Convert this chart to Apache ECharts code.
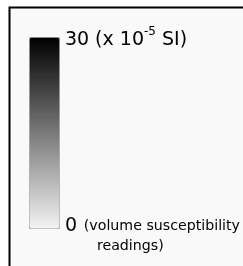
<!DOCTYPE html>
<html><head><meta charset="utf-8">
<script src="https://cdn.jsdelivr.net/npm/echarts@6/dist/echarts.min.js"></script>
<style>html,body{margin:0;padding:0;background:#fff}#c{width:243px;height:266px}</style>
</head><body><div id="c"></div>
<script>
const rangeMin = 0;
const rangeMax = 30;
const tickValues = [0, 30];
const topLabel = ['30', ' (x 10', '-5', ' SI)'];
const bottomLabel = ['0', '(volume susceptibility', 'readings)'];
const rampColors = ['#f3f3f3', '#000000'];

const chart = echarts.init(document.getElementById('c'), null, {renderer: 'canvas'});
const F = 'DejaVu Sans, sans-serif';
chart.setOption({
  animation: false,
  backgroundColor: '#ffffff',
  graphic: [{
    type: 'rect', z: -10, silent: true,
    shape: {x: 9.5, y: 7.5, width: 260, height: 280},
    style: {fill: '#f9f9f9', stroke: '#000', lineWidth: 2}
  }],
  grid: {left: 29, top: 37, width: 30, height: 191, show: false},
  xAxis: {type: 'value', show: false, min: 0, max: 1},
  yAxis: {
    type: 'value', position: 'right', min: rangeMin, max: rangeMax, interval: rangeMax - rangeMin,
    axisLine: {show: false}, axisTick: {show: false}, splitLine: {show: false},
    axisLabel: {
      margin: 6, color: '#000', fontFamily: F,
      formatter: function (v) {
        if (v === tickValues[1]) return '{bt|' + topLabel[0] + topLabel[1] + '}{sup|' + topLabel[2] + '}{bt|' + topLabel[3] + '}';
        return '{b|' + bottomLabel[0] + '} {s|' + bottomLabel[1] + '}\n{r|' + bottomLabel[2] + '}';
      },
      rich: {
        bt: {fontSize: 19, fontFamily: F, color: '#000', lineHeight: 36, padding: [6, 0, 0, 0]},
        sup: {fontSize: 12, fontFamily: F, color: '#000', padding: [0, 0, 10, 0], lineHeight: 36},
        b: {fontSize: 19, fontFamily: F, color: '#000', lineHeight: 36},
        s: {fontSize: 14.2, fontFamily: F, color: '#000', lineHeight: 36, padding: [0, 0, 0, 3]},
        r: {fontSize: 14.2, fontFamily: F, color: '#000', lineHeight: 4, padding: [0, 0, 0, 32]}
      }
    }
  },
  visualMap: {
    type: 'continuous', min: rangeMin, max: rangeMax, orient: 'vertical',
    left: 29, top: 37, itemWidth: 30, itemHeight: 191, padding: 0,
    calculable: false, text: null, showLabel: false,
    borderColor: '#a8a8a8', borderWidth: 1,
    inRange: {color: rampColors}, seriesIndex: 0
  },
  series: [{type: 'scatter', data: [[0.5, 0]], symbolSize: 0}]
});
</script></body></html>
